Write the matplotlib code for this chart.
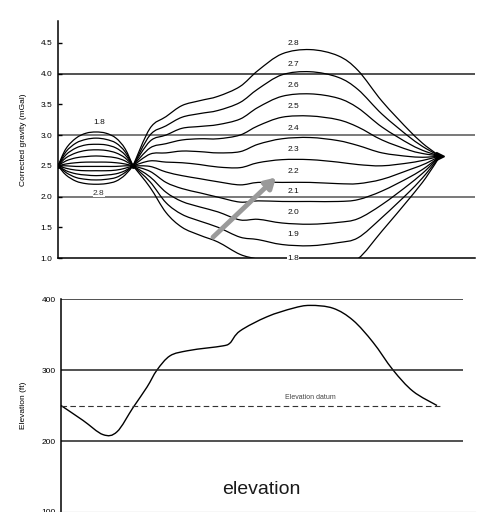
import matplotlib
matplotlib.use("Agg")
import matplotlib.pyplot as plt
from matplotlib.path import Path
from matplotlib.patches import PathPatch

plt.rcParams['font.family'] = ['Liberation Sans', 'DejaVu Sans']

# distance along the profile (arbitrary units)
stations = [0, 2, 4.5, 7, 9.5, 12, 14.5, 16.75, 18.75,
            23, 27, 31, 35.5, 40, 45.5, 50, 56, 63, 70, 75, 81, 88, 92, 95.5]
node = 8  # index of the station where all curves meet between the two lenses

# corrected gravity (mGal) for each reduction density
g18 = [2.5, 2.78, 2.95, 3.03, 3.05, 3.03, 2.95, 2.78, 2.5,
       2.15, 1.74, 1.50, 1.37, 1.26, 1.06, 0.98, 0.88, 0.85, 0.90, 0.99, 1.44, 1.98, 2.31, 2.66]
g19 = [2.5, 2.73, 2.87, 2.93, 2.95, 2.93, 2.87, 2.73, 2.5,
       2.24, 1.90, 1.71, 1.60, 1.50, 1.34, 1.30, 1.22, 1.20, 1.25, 1.33, 1.66, 2.09, 2.37, 2.66]
g20 = [2.5, 2.68, 2.79, 2.84, 2.85, 2.84, 2.79, 2.68, 2.5,
       2.32, 2.07, 1.92, 1.83, 1.75, 1.62, 1.63, 1.57, 1.55, 1.58, 1.64, 1.87, 2.21, 2.43, 2.66]
g21 = [2.5, 2.63, 2.71, 2.75, 2.76, 2.75, 2.71, 2.63, 2.5,
       2.41, 2.23, 2.13, 2.06, 1.99, 1.91, 1.93, 1.92, 1.92, 1.92, 1.95, 2.09, 2.32, 2.48, 2.66]
g22 = [2.5, 2.58, 2.63, 2.65, 2.66, 2.65, 2.63, 2.58, 2.5,
       2.49, 2.40, 2.34, 2.29, 2.24, 2.19, 2.23, 2.23, 2.23, 2.21, 2.21, 2.28, 2.44, 2.54, 2.66]
g23 = [2.5, 2.53, 2.55, 2.56, 2.56, 2.56, 2.55, 2.53, 2.5,
       2.58, 2.56, 2.55, 2.52, 2.48, 2.47, 2.55, 2.60, 2.60, 2.56, 2.52, 2.50, 2.55, 2.60, 2.66]
g24 = [2.5, 2.50, 2.49, 2.49, 2.49, 2.49, 2.49, 2.50, 2.5,
       2.69, 2.71, 2.74, 2.73, 2.71, 2.73, 2.85, 2.94, 2.96, 2.91, 2.83, 2.71, 2.65, 2.64, 2.66]
g25 = [2.5, 2.46, 2.43, 2.42, 2.42, 2.42, 2.43, 2.46, 2.5,
       2.79, 2.86, 2.92, 2.94, 2.94, 3.00, 3.15, 3.29, 3.31, 3.25, 3.13, 2.92, 2.75, 2.69, 2.66]
g26 = [2.5, 2.42, 2.37, 2.35, 2.34, 2.35, 2.37, 2.42, 2.5,
       2.90, 3.00, 3.11, 3.14, 3.17, 3.26, 3.45, 3.63, 3.67, 3.60, 3.44, 3.13, 2.85, 2.73, 2.66]
g27 = [2.5, 2.39, 2.31, 2.28, 2.27, 2.28, 2.31, 2.39, 2.5,
       3.00, 3.15, 3.29, 3.35, 3.40, 3.53, 3.75, 3.98, 4.03, 3.94, 3.74, 3.34, 2.96, 2.78, 2.66]
g28 = [2.5, 2.35, 2.25, 2.21, 2.20, 2.21, 2.25, 2.35, 2.5,
       3.11, 3.30, 3.48, 3.56, 3.63, 3.79, 4.05, 4.32, 4.39, 4.29, 4.05, 3.55, 3.06, 2.82, 2.66]
curves = [g18, g19, g20, g21, g22, g23, g24, g25, g26, g27, g28]
density_labels = ["1.8", "1.9", "2.0", "2.1", "2.2", "2.3", "2.4", "2.5", "2.6", "2.7", "2.8"]

gravity_ticks = [1.0, 1.5, 2.0, 2.5, 3.0, 3.5, 4.0, 4.5]
gravity_lines = [2.0, 3.0, 4.0]

# elevation profile (ft)
elev_x = [0.75, 6.25, 11.25, 14.75, 18.75, 22.25, 24.75, 28, 32.25, 37.25, 41.25,
          43, 45.5, 52.25, 58.75, 63, 68.75, 73.75, 78.75, 83.75, 88.75, 94.75]
elev_ft = [250, 229, 209, 213, 247, 276, 300, 320, 327, 331, 334,
           338, 355, 375, 387, 391, 387, 370, 339, 300, 270, 250]
elev_ticks = [100, 200, 300, 400]
elev_lines = [200, 300, 400]
datum_ft = 250

# grey arrow pointing at the best density curve
arrow_tail = (38.75, 1.34)
arrow_head = (54.5, 2.31)


def smooth_line(ax, xs, ys, **kw):
    # draw a smooth (Catmull-Rom style) path through the read points
    pts = list(zip(xs, ys))
    n = len(pts)
    verts = [pts[0]]
    codes = [Path.MOVETO]
    for i in range(n - 1):
        p0 = pts[i - 1] if i > 0 else pts[i]
        p1 = pts[i]
        p2 = pts[i + 1]
        p3 = pts[i + 2] if i + 2 < n else pts[i + 1]
        c1 = (p1[0] + (p2[0] - p0[0]) / 6, p1[1] + (p2[1] - p0[1]) / 6)
        c2 = (p2[0] - (p3[0] - p1[0]) / 6, p2[1] - (p3[1] - p1[1]) / 6)
        verts += [c1, c2, p2]
        codes += [Path.CURVE4] * 3
    ax.add_patch(PathPatch(Path(verts, codes), fill=False, **kw))


fig = plt.figure(figsize=(4.81, 5.12), dpi=100)
ax1 = fig.add_axes([0.1206, 0.496, 0.867, 0.4636])
ax2 = fig.add_axes([0.1206, 0.0, 0.867, 0.416])

# --- corrected gravity panel
for y in gravity_lines:
    ax1.axhline(y, color="#222222" if y == 4.0 else "#555555", lw=1.1, zorder=1)

for g in curves:
    smooth_line(ax1, stations[:node + 1], g[:node + 1], edgecolor="black", lw=0.9, zorder=2)
    smooth_line(ax1, stations[node:], g[node:], edgecolor="black", lw=0.9, zorder=2)

ax1.plot([stations[0], stations[node]], [2.5, 2.5], "o", color="black", ms=2.5, zorder=3)
ax1.plot(stations[-1], g28[-1], ">", color="black", ms=6, zorder=3)

for g, lab in zip(curves, density_labels):
    y = max(g[16], 1.0)
    dy = 5 if g[16] > 1.0 else -3
    ax1.annotate(lab, (stations[16], y), textcoords="offset points", xytext=(8, dy),
                 ha="center", va="bottom", fontsize=6, color="#111111",
                 bbox=dict(facecolor="white", edgecolor="none", pad=0.3), zorder=4,
                 annotation_clip=False)

ax1.annotate("1.8", (stations[4], g18[4]), textcoords="offset points", xytext=(2, 4),
             ha="center", va="bottom", fontsize=6, color="#111111")
ax1.annotate("2.8", (stations[4], g28[4]), textcoords="offset points", xytext=(2, -4),
             ha="center", va="top", fontsize=6, color="#333333",
             bbox=dict(facecolor="white", edgecolor="none", pad=0.3), zorder=4)

ax1.annotate("", xy=arrow_head, xytext=arrow_tail,
             arrowprops=dict(arrowstyle="-|>,head_length=0.6,head_width=0.35",
                             color="#9a9a9a", lw=3.5, shrinkA=0, shrinkB=0), zorder=5)

ax1.set_xlim(0, 104.25)
ax1.set_ylim(1.0, 4.86)
ax1.set_yticks(gravity_ticks)
ax1.set_yticklabels([f"{t:.1f}" for t in gravity_ticks])
ax1.set_xticks([])
ax1.tick_params(axis="y", direction="in", length=3, width=1, labelsize=6, pad=4)
ax1.spines["top"].set_visible(False)
ax1.spines["right"].set_visible(False)
ax1.spines["left"].set_linewidth(1.1)
ax1.spines["bottom"].set_linewidth(1.1)
ax1.set_ylabel("Corrected gravity (mGal)", fontsize=6, labelpad=10)

# --- elevation panel
ax2.hlines(elev_lines, elev_x[0], 101.25, color="#222222", lw=1.1)
ax2.hlines(datum_ft, elev_x[0], stations[-1], color="#333333", lw=0.8, linestyles=(0, (5, 3)))
smooth_line(ax2, elev_x, elev_ft, edgecolor="black", lw=1.0)
ax2.text(63, datum_ft + 6, "Elevation datum", ha="center", va="bottom", fontsize=5, color="#444444")

ax2.set_xlim(0, 104.25)
ax2.set_ylim(100, 400)
ax2.set_yticks(elev_ticks)
ax2.set_yticklabels([str(t) for t in elev_ticks])
ax2.set_xticks([])
ax2.tick_params(axis="y", direction="in", length=0, labelsize=6, pad=4)
ax2.spines["left"].set_position(("data", elev_x[0]))
ax2.spines["left"].set_linewidth(1.1)
ax2.spines["top"].set_visible(False)
ax2.spines["right"].set_visible(False)
ax2.spines["bottom"].set_color("#777777")
ax2.set_ylabel("Elevation (ft)", fontsize=6, labelpad=10)
ax2.patch.set_alpha(0)

fig.text(0.543, 0.043, "elevation", ha="center", va="center", fontsize=14, color="#1a1a1a")

fig.savefig("out.png", dpi=100)
